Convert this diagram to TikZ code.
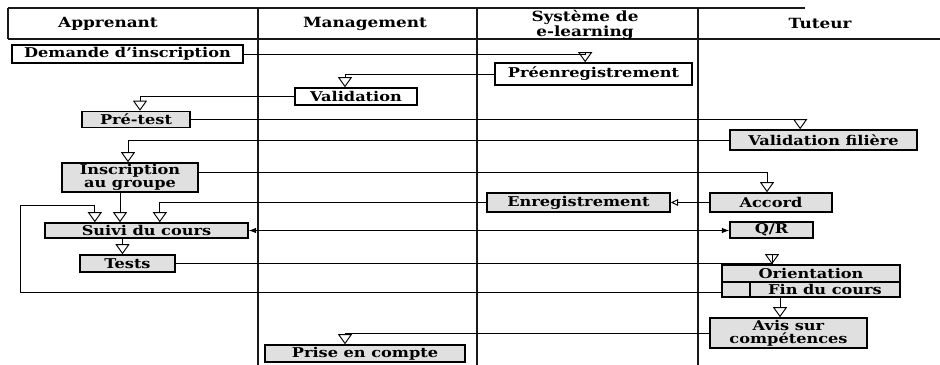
\documentclass[tikz,border=0pt]{standalone}
\usepackage{fontspec}
\setmainfont{DejaVu Serif}[FakeStretch=1.2]
\usetikzlibrary{arrows.meta, positioning, calc}
\definecolor{boxshade}{RGB}{224,224,224}
\definecolor{laneline}{RGB}{25,25,25}

\begin{document}
\begin{tikzpicture}[
    x=0.03cm, y=-0.03cm,
    every node/.style={font=\fontsize{11.5}{11}\selectfont\bfseries},
    actbox/.style={rectangle, draw=black, line width=1.3pt, inner sep=1pt,
        align=center},
    plainbox/.style={actbox, fill=white},
    shadebox/.style={actbox, fill=boxshade},
    flow/.style={line width=0.8pt,
        -{Triangle[open, width=4.2mm, length=3mm, line width=0.8pt]}},
    backflow/.style={line width=0.8pt,
        -{Triangle[open, width=2mm, length=2.2mm, line width=0.8pt]}},
    talk/.style={line width=0.8pt, {Latex[length=2.2mm]}-{Latex[length=2.2mm]}},
    lane/.style={draw=laneline, line width=1.2pt},
    header/.style={font=\fontsize{12}{10.5}\selectfont\bfseries, align=center,
        inner sep=0pt},
]
\useasboundingbox (0,0) rectangle (940,365);

% === SWIMLANES ===
\draw[lane] (8,8) -- (805,8);
\draw[lane] (8,8) -- (8,39);
\draw[lane] (8,39) -- (940,39);
\draw[lane] (258,8) -- (258,365);
\draw[lane] (477,8) -- (477,365);
\draw[lane] (698,8) -- (698,365);

\node[header] (hApp) at (108,24) {Apprenant};
\node[header] (hMan) at (365,24) {Management};
\node[header] (hSys) at (585,24.5) {Système de\\e-learning};
\node[header] (hTut) at (820,23) {Tuteur};

% === ACTIVITIES ===
\node[plainbox, minimum width=231*0.03cm, minimum height=18*0.03cm] (dem) at (127.5,54) {Demande d'inscription};
\node[plainbox, minimum width=197*0.03cm, minimum height=22*0.03cm] (pre) at (593.5,74) {Préenregistrement};
\node[plainbox, minimum width=122*0.03cm, minimum height=17*0.03cm] (val) at (356,96.5) {Validation};
\node[shadebox, minimum width=108*0.03cm, minimum height=16*0.03cm] (pret) at (136,119.5) {Pré-test};
\node[shadebox, minimum width=187*0.03cm, minimum height=20*0.03cm] (vfil) at (823.5,140) {Validation filière};
\node[shadebox, minimum width=136*0.03cm, minimum height=29*0.03cm] (insc) at (130,177.5) {Inscription\\au groupe};
\node[shadebox, minimum width=122*0.03cm, minimum height=19*0.03cm] (acc) at (771,202.5) {Accord};
\node[shadebox, minimum width=183*0.03cm, minimum height=19*0.03cm] (enr) at (578.5,202.5) {Enregistrement};
\node[shadebox, minimum width=203*0.03cm, minimum height=15*0.03cm] (suivi) at (146.5,230.5) {Suivi du cours};
\node[shadebox, minimum width=83*0.03cm, minimum height=16*0.03cm] (qr) at (771.5,230) {Q/R};
\node[shadebox, minimum width=95*0.03cm, minimum height=17*0.03cm] (tests) at (127.5,263.5) {Tests};
\node[shadebox, minimum width=178*0.03cm, minimum height=17*0.03cm] (orient) at (811,273.5) {Orientation};
\node[shadebox, minimum width=150*0.03cm, minimum height=15*0.03cm] (fin) at (825,289.5) {Fin du cours};
\node[shadebox, minimum width=28*0.03cm, minimum height=15*0.03cm] (cell) at (736,289.5) {};
\node[shadebox, minimum width=157*0.03cm, minimum height=30*0.03cm] (avis) at (788.5,333) {Avis sur\\compétences};
\node[shadebox, minimum width=200*0.03cm, minimum height=17*0.03cm] (prise) at (365,353.5) {Prise en compte};

% === FLOWS ===
\draw[flow] (dem.east) -| ([xshift=-2.5mm]pre.north);
\draw[flow] (pre.west) -| ([xshift=-3.3mm]val.north);
\draw[flow] (val.west) -| ([xshift=1.2mm]pret.north);
\draw[flow] (pret.east) -| ([xshift=-7mm]vfil.north);
\draw[flow] (vfil.west) -| ([xshift=-0.6mm]insc.north);
\draw[flow] ([yshift=1.4mm]insc.east) -| ([xshift=-1.2mm]acc.north);
\draw[backflow] (acc.west) -- (enr.east);
\draw[flow] (enr.west) -| ([xshift=4mm]suivi.north);
\draw[flow] ([xshift=-3mm]insc.south) -- ([xshift=-3mm]insc.south |- suivi.north);
\draw[talk] (suivi.east) -- (suivi.east -| qr.west);
\draw[flow] ([xshift=-1.5mm]tests.north |- suivi.south) -- ([xshift=-1.5mm]tests.north);
\draw[flow] (tests.east) -| ([xshift=-11.7mm]orient.north);
\draw[flow] ([xshift=-13.5mm]fin.south) -- ([xshift=-13.5mm]fin.south |- avis.north);
\draw[flow] (avis.west) -| ([xshift=-6mm]prise.north);

% loop back from the end of the course
\coordinate (back) at (20,205);
\draw[flow] ([yshift=-0.8mm]cell.west) -| (back) -| ([xshift=-15.5mm]suivi.north);

\end{tikzpicture}
\end{document}
